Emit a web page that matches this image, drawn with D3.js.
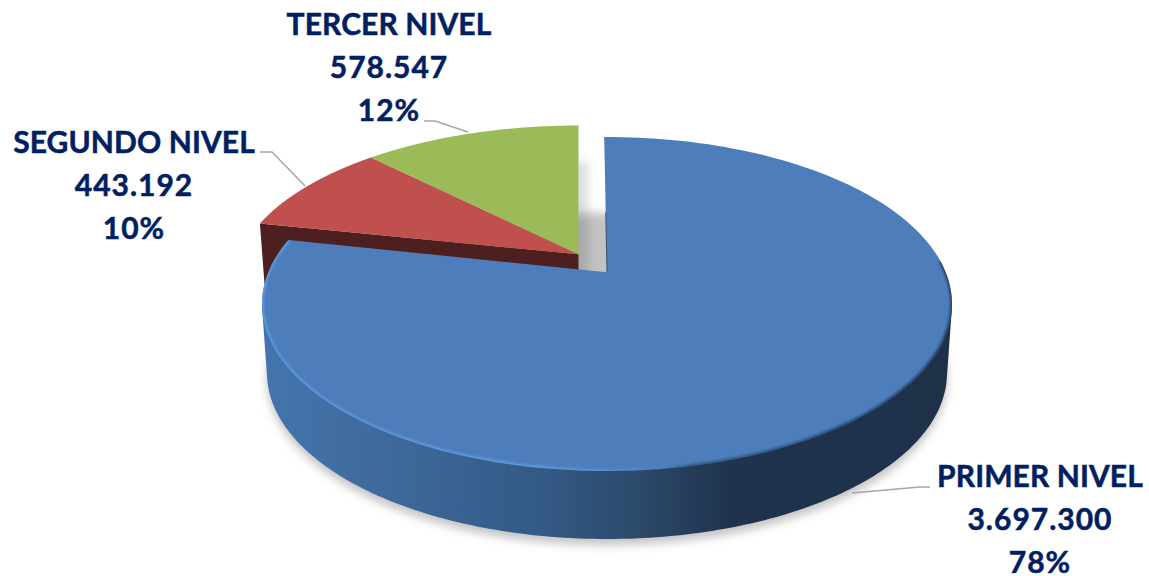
<!DOCTYPE html>
<html lang="es">
<head>
<meta charset="utf-8">
<title>Niveles</title>
<script src="https://d3js.org/d3.v7.min.js"></script>
<style>
    body { margin: 0; background: #fff; }
    text { font-family: Lato, sans-serif; font-weight: 700; font-size: 30px; fill: #002060; stroke: #002060; stroke-width: 0.5; text-anchor: middle; letter-spacing: 1px; }
    .name { letter-spacing: 0.1px; }
    .leader { fill: none; stroke: #a6a6a6; stroke-width: 1.5; }
</style>
</head>
<body>
<script>
// chart data
const categories = ["PRIMER NIVEL", "SEGUNDO NIVEL", "TERCER NIVEL"];
const values = [3697300, 443192, 578547];
const percents = ["78%", "10%", "12%"];
const colors = ["#4d7ebb", "#bf504d", "#9bbb59"];

const W = 1149, H = 576;
const tilt = 0.19;   // how far the pie centre sits above the middle of the ellipse

const svg = d3.select("body").append("svg").attr("width", W).attr("height", H).style("display", "block");
const defs = svg.append("defs");

// unit disc -> screen, one pair of scales per drawn ellipse
function ellipse(cx, cy, rx, ry) {
    return {
        x: d3.scaleLinear().domain([-1, 1]).range([cx - rx, cx + rx]),
        y: d3.scaleLinear().domain([-1, 1]).range([cy + ry, cy - ry])
    };
}
const blueTop = ellipse(607, 304, 345, 167);
const blueBottom = ellipse(607, 373, 340, 166);
const restTop = ellipse(578.5, 284.5, 345, 159);
const restBottom = ellipse(578.5, 345, 340, 159);

// perspective: pushes the centre of the disc to y = tilt, rim stays on the ellipse
function project(e, angle, r = 1) {
    const u = r * Math.sin(angle), v = r * Math.cos(angle);
    const k = Math.sqrt(1 - tilt * tilt);
    const d = 1 + tilt * v;
    return [e.x(u * k / d), e.y((v + tilt) / d)];
}

const pie = d3.pie().sort(null).value(d => d);
const arcs = pie(values);
arcs[0].startAngle = -0.01;   // blue edge leans a little in the picture

const line = d3.line();
const rim = (e, a0, a1, n = 160) => d3.range(n + 1).map(i => project(e, a0 + (a1 - a0) * i / n));
const wedge = (e, d) => line([project(e, 0, 0), ...rim(e, d.startAngle, d.endAngle)]) + "Z";

// filters and gradients
const blur = (id, s) => defs.append("filter").attr("id", id)
    .attr("x", "-10%").attr("y", "-10%").attr("width", "120%").attr("height", "120%")
    .append("feGaussianBlur").attr("stdDeviation", s);
blur("shadow", 5);
blur("soft", 1);

const wallGrad = defs.append("linearGradient").attr("id", "wall")
    .attr("gradientUnits", "userSpaceOnUse").attr("x1", 262).attr("x2", 953).attr("y1", 0).attr("y2", 0);
[[0, "#4475ae"], [0.2, "#3d6899"], [0.4, "#345a86"], [0.55, "#2c4969"], [0.68, "#1f334d"], [1, "#1e3149"]]
    .forEach(s => wallGrad.append("stop").attr("offset", s[0]).attr("stop-color", s[1]));

const rimGrad = defs.append("linearGradient").attr("id", "bevel")
    .attr("gradientUnits", "userSpaceOnUse").attr("x1", 262).attr("x2", 953).attr("y1", 0).attr("y2", 0);
[[0, "#5d97dd", 1], [0.4, "#5f9ae0", 1], [0.56, "#5f9ae0", 0.25], [0.62, "#2a4668", 0.6], [0.98, "#1f3350", 0.8]]
    .forEach(s => rimGrad.append("stop").attr("offset", s[0]).attr("stop-color", s[1]).attr("stop-opacity", s[2]));

defs.append("clipPath").attr("id", "blueClip").append("path").attr("d", wedge(blueTop, arcs[0]));

// soft shadows behind the pie
const shadows = svg.append("g").attr("filter", "url(#shadow)").attr("fill", "#000").attr("fill-opacity", 0.24);
shadows.append("path").attr("d", line(rim(blueBottom, 0, 2 * Math.PI)) + "Z").attr("transform", "translate(0,6) ");
shadows.append("path").attr("d", wedge(restTop, { startAngle: arcs[1].startAngle, endAngle: arcs[2].endAngle }))
    .attr("transform", "translate(10,36)").attr("fill-opacity", 0.13);

// red and green slices, pulled away from the blue one
const redCut = arcs[1].startAngle;
svg.append("path")
    .attr("d", line([project(restTop, redCut), project(restTop, 0, 0), project(restBottom, 0, 0), project(restBottom, redCut)]) + "Z")
    .attr("fill", "#4d1f1e");
svg.selectAll("path.rest").data(arcs.slice(1)).join("path")
    .attr("class", "rest")
    .attr("d", d => wedge(restTop, d))
    .attr("fill", (d, i) => colors[i + 1]);

// blue slice: wall is the hull of the front half of both rims, then top face and bevel
const b = arcs[0];
const sideA = Math.acos(-tilt);   // angle where the rim reaches its widest point
const frontA = [sideA, 2 * Math.PI - sideA];
svg.append("path")
    .attr("d", line(d3.polygonHull([...rim(blueTop, frontA[0], frontA[1]), ...rim(blueBottom, frontA[0], frontA[1])])) + "Z")
    .attr("fill", "url(#wall)");
svg.append("path").attr("d", wedge(blueTop, b)).attr("fill", colors[0]);
svg.append("g").attr("clip-path", "url(#blueClip)").append("path")
    .attr("d", line(rim(blueTop, 1.5, b.endAngle)))
    .attr("fill", "none").attr("stroke", "url(#bevel)").attr("stroke-width", 4).attr("filter", "url(#soft)");
svg.append("path")
    .attr("d", line([project(blueTop, -0.01, 0.4), project(blueTop, 0, 0)]))
    .attr("stroke", "#24405f").attr("stroke-width", 1).attr("stroke-opacity", 0.8).attr("fill", "none");

// labels, same order as categories
const labelPos = [[1040, 487], [134, 153], [389, 35]];
const labelStep = 43;
const num = d3.formatLocale({ decimal: ",", thousands: ".", grouping: [3], currency: ["", ""] }).format(",d");
const labels = svg.selectAll("g.label").data(categories).join("g").attr("class", "label");
labels.append("text").attr("class", "name").attr("x", (d, i) => labelPos[i][0]).attr("y", (d, i) => labelPos[i][1]).text(d => d);
labels.append("text").attr("x", (d, i) => labelPos[i][0]).attr("y", (d, i) => labelPos[i][1] + labelStep).text((d, i) => num(values[i]));
labels.append("text").attr("x", (d, i) => labelPos[i][0]).attr("y", (d, i) => labelPos[i][1] + 2 * labelStep).text((d, i) => percents[i]);

// leader lines
const leaders = [
    [[852, 493], [920, 487], [930, 487]],
    [[305, 186], [272, 152], [260, 152]],
    [[468, 132], [435, 121], [424, 121]]
];
svg.selectAll("path.leader").data(leaders).join("path").attr("class", "leader").attr("d", line);
</script>
</body>
</html>
